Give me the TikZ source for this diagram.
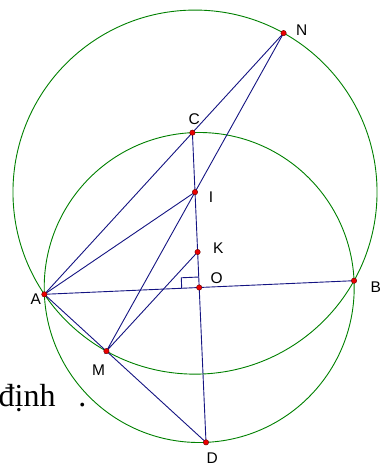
\documentclass[tikz,border=0pt]{standalone}
\usepackage{fontspec}
\setmainfont{Liberation Serif}
\newfontfamily\labelfont{Liberation Sans}
\usetikzlibrary{calc}
\definecolor{circgreen}{RGB}{0,128,0}
\definecolor{segblue}{RGB}{20,20,130}
\definecolor{ptred}{RGB}{235,0,0}
\tikzset{
  circ/.style={draw=circgreen, line width=0.9pt},
  seg/.style={draw=segblue, line width=0.9pt},
  vertex/.style={circle, fill=ptred, draw=black!60!red, line width=0.4pt, inner sep=0pt, minimum size=5.4pt},
  lbl/.style={font=\labelfont\fontsize{15.5}{17}\selectfont, inner sep=0pt},
}

\begin{document}
\begin{tikzpicture}[x=1pt, y=-1pt]
\useasboundingbox (0,0) rectangle (383,466);
% Points
\coordinate (O) at (199.2,287.5);
\coordinate (A) at (44.35,294.3);
\coordinate (B) at (354.05,280.7);
\coordinate (C) at (192.4,132.65);
\coordinate (D) at (206.0,442.35);
\coordinate (I) at (195.0,192.1);
\coordinate (K) at (197.6,252.0);
\coordinate (N) at (283.6,33.1);
\coordinate (M) at (106.4,351.1);
% Circles
\draw[circ] let \p1=($(A)-(O)$), \n1={veclen(\x1,\y1)} in (O) circle (\n1);
\draw[circ] let \p1=($(A)-(I)$), \n1={veclen(\x1,\y1)} in (I) circle (\n1);
% Segments
\draw[seg] (A) -- (N);
\draw[seg] (A) -- (I);
\draw[seg] (A) -- (B);
\draw[seg] (A) -- (M) -- (D);
\draw[seg] (C) -- (D);
\draw[seg] (N) -- (M) -- (K);
% Right angle at O
\coordinate (ra1) at ($(O)!17.5pt!(A)$);
\coordinate (ra3) at ($(O)!10.5pt!(C)$);
\draw[seg] (ra1) -- ($(ra1)+(ra3)-(O)$) -- (ra3);
% Dots
\foreach \p in {A,B,C,D,I,K,M,N,O}
  \node[vertex] (d\p) at (\p) {};
% Labels
\node[lbl] (lN) at (301.7,30) {N};
\node[lbl] (lC) at (194.3,119) {C};
\node[lbl] (lI) at (211,197.3) {I};
\node[lbl] (lK) at (218.3,248.3) {K};
\node[lbl] (lO) at (216.7,277.7) {O};
\node[lbl] (lB) at (375.7,287.3) {B};
\node[lbl] (lA) at (35.7,299.3) {A};
\node[lbl] (lM) at (98.7,370) {M};
\node[lbl] (lD) at (212.3,458.3) {D};
% Stray text
\node[anchor=base west, font=\fontsize{32}{36}\selectfont, inner sep=0pt] (txt) at (-1.5,406.7) {định\hspace{22.8pt}.};
\end{tikzpicture}
\end{document}
